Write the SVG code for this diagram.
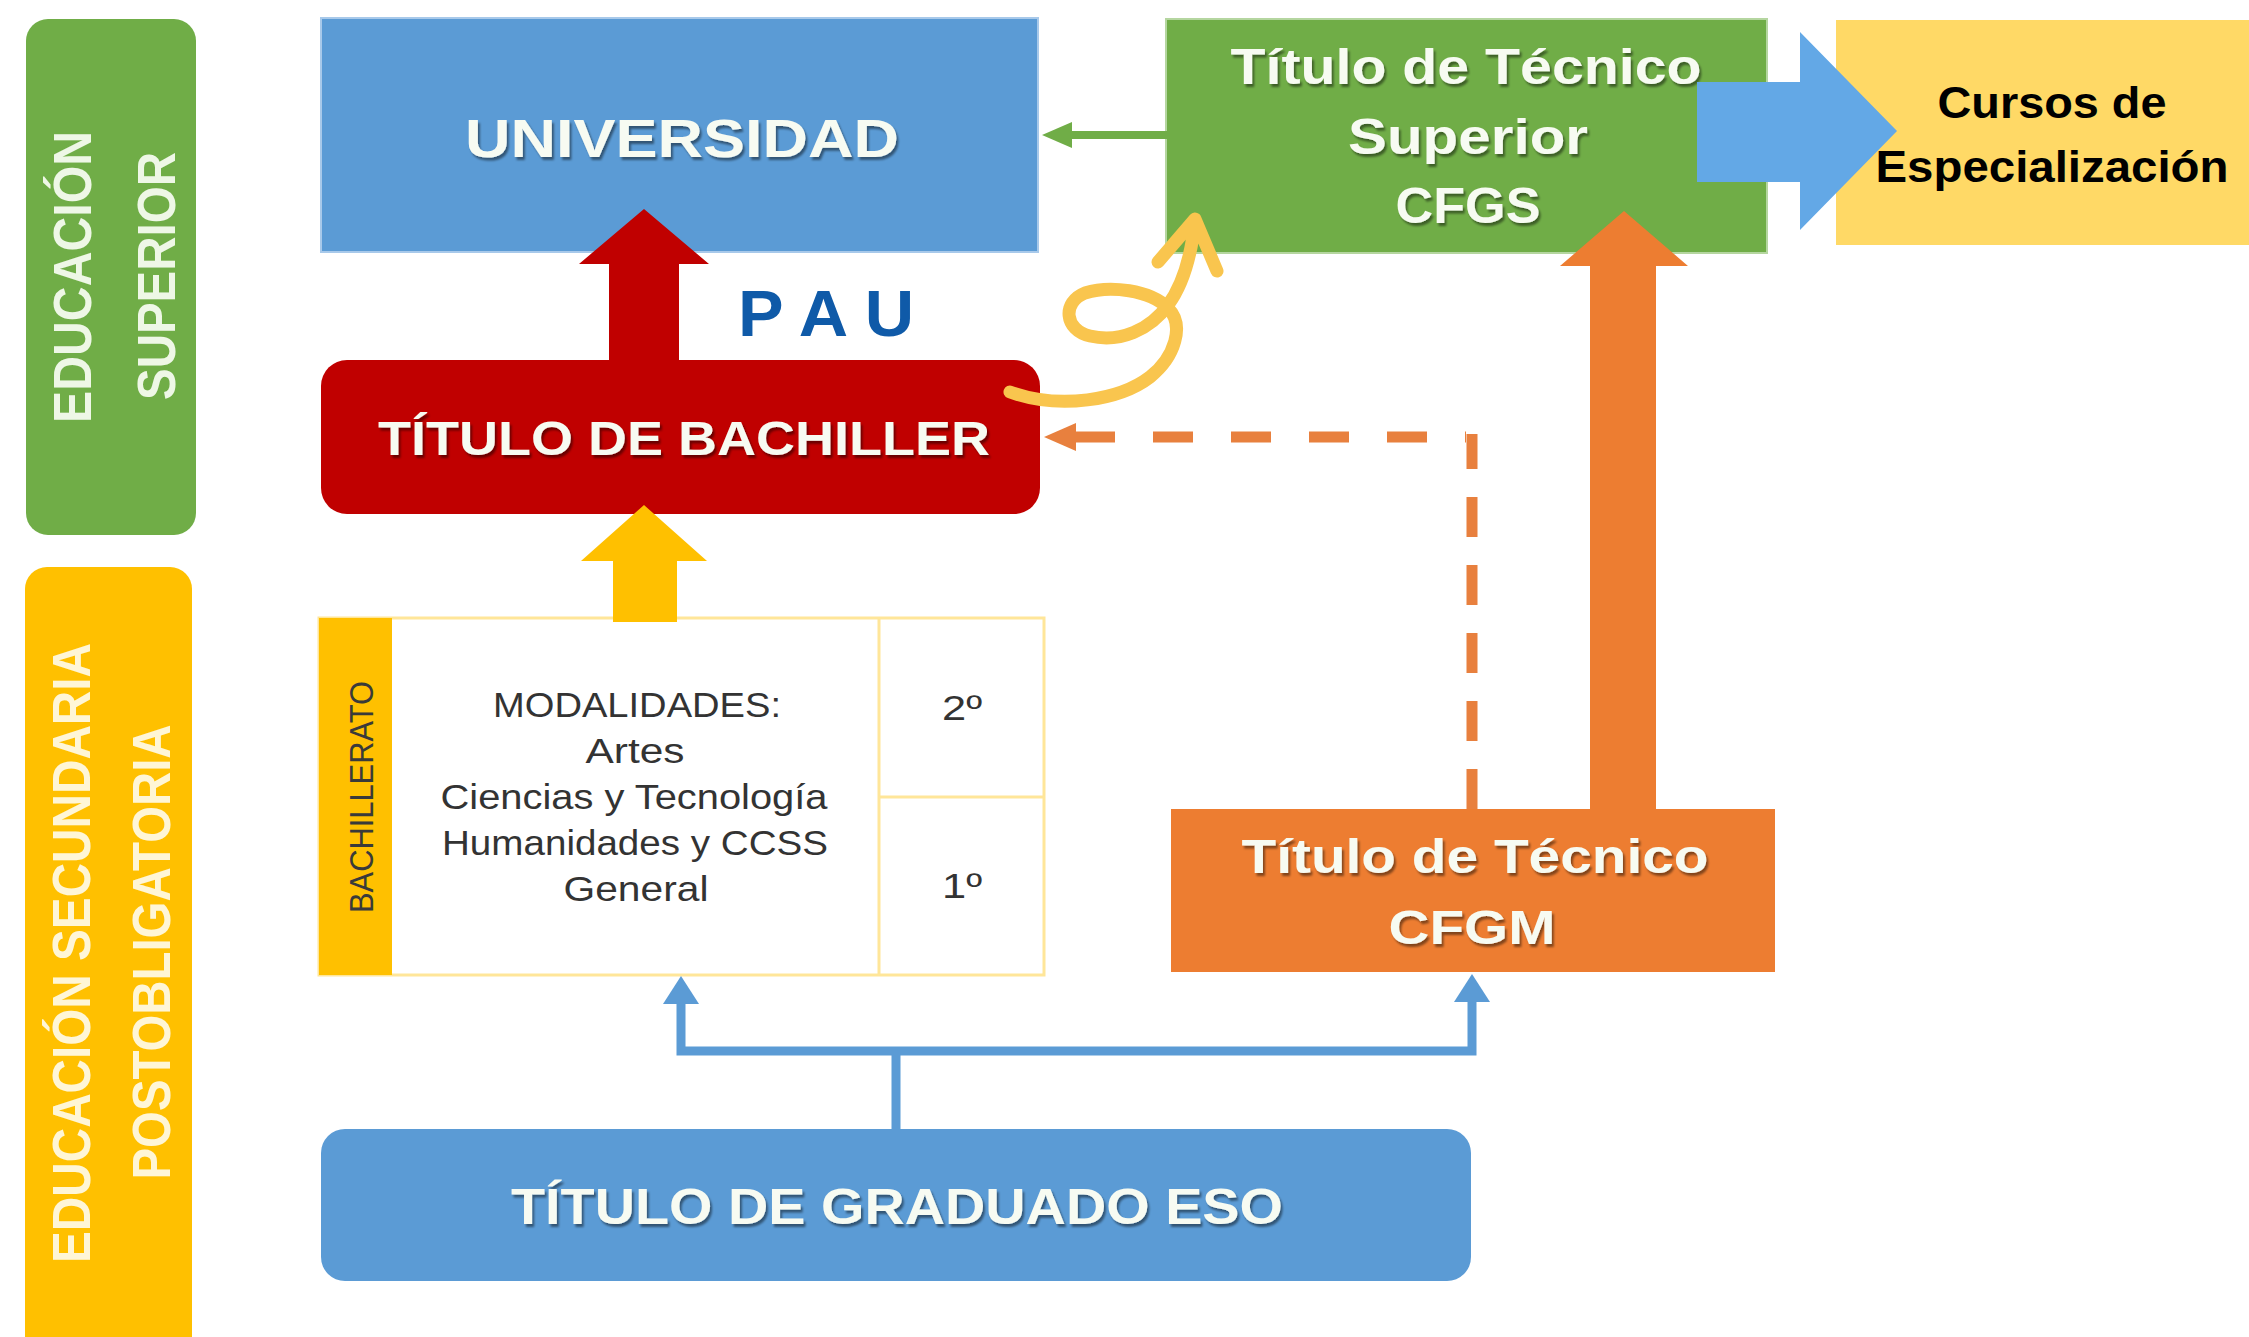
<svg xmlns="http://www.w3.org/2000/svg" width="2249" height="1337" viewBox="0 0 2249 1337">
<defs>
<filter id="sh" x="-5%" y="-20%" width="110%" height="140%">
<feDropShadow dx="2" dy="3" stdDeviation="1.2" flood-color="#000" flood-opacity="0.45"/>
</filter>
<style>
.f{font-family:"Liberation Sans",Arial,sans-serif}
.b{font-weight:bold}
.w{fill:#F7FBF2}
.bar{font-family:"Liberation Sans",Arial,sans-serif;font-weight:bold;font-size:54px;text-anchor:middle}
.box{font-family:"Liberation Sans",Arial,sans-serif;font-weight:bold;text-anchor:middle;fill:#F7FBF2;filter:url(#sh)}
.mod{font-family:"Liberation Sans",Arial,sans-serif;font-size:35px;fill:#333;text-anchor:middle}
.blue{stroke:#5B9BD5;stroke-width:9;fill:none}
.dash{stroke:#E8803E;stroke-width:11;fill:none}
</style>
</defs>
<rect width="2249" height="1337" fill="#fff"/>

<g id="edu-superior">
<rect x="26" y="19" width="170" height="516" rx="22" fill="#70AD47"/>
<text class="bar" fill="#EEF7E6" transform="translate(91,277) rotate(-90)" textLength="292" lengthAdjust="spacingAndGlyphs">EDUCACIÓN</text>
<text class="bar" fill="#EEF7E6" transform="translate(175,276) rotate(-90)" textLength="248" lengthAdjust="spacingAndGlyphs">SUPERIOR</text>
</g>

<g id="edu-secundaria">
<rect x="25" y="567" width="167" height="820" rx="22" fill="#FFC000"/>
<text class="bar" fill="#FFF6D6" transform="translate(90,953) rotate(-90)" textLength="620" lengthAdjust="spacingAndGlyphs">EDUCACIÓN SECUNDARIA</text>
<text class="bar" fill="#FFF6D6" transform="translate(170,952) rotate(-90)" textLength="455" lengthAdjust="spacingAndGlyphs">POSTOBLIGATORIA</text>
</g>

<g id="universidad">
<rect x="321" y="18" width="717" height="234" fill="#5B9BD5" stroke="#A8C9EA" stroke-width="2"/>
<text class="box" x="682" y="157" font-size="54" textLength="434" lengthAdjust="spacingAndGlyphs">UNIVERSIDAD</text>
</g>

<g id="bachiller">
<rect x="321" y="360" width="719" height="154" rx="26" fill="#C00000"/>
<text class="box" x="684" y="455" font-size="49" textLength="612" lengthAdjust="spacingAndGlyphs">TÍTULO DE BACHILLER</text>
</g>

<g id="cfgs">
<rect x="1166" y="19" width="601" height="234" fill="#70AD47" stroke="#B5D6A0" stroke-width="2"/>
<text class="box" x="1466" y="84" font-size="50" textLength="471" lengthAdjust="spacingAndGlyphs">Título de Técnico</text>
<text class="box" x="1468" y="154" font-size="50" textLength="240" lengthAdjust="spacingAndGlyphs">Superior</text>
<text class="box" x="1468" y="223" font-size="50" textLength="145" lengthAdjust="spacingAndGlyphs">CFGS</text>
</g>

<g id="cursos">
<rect x="1836" y="20" width="413" height="225" fill="#FFD966"/>
<text class="f b" x="2052" y="118" font-size="45" text-anchor="middle" fill="#000" textLength="229" lengthAdjust="spacingAndGlyphs">Cursos de</text>
<text class="f b" x="2052" y="182" font-size="45" text-anchor="middle" fill="#000" textLength="353" lengthAdjust="spacingAndGlyphs">Especialización</text>
</g>

<g id="bachillerato">
<rect x="319" y="618" width="725" height="357" fill="#fff" stroke="#FFE699" stroke-width="3"/>
<rect x="319" y="618" width="73" height="357" fill="#FFC000"/>
<line x1="879" y1="618" x2="879" y2="975" stroke="#FFE699" stroke-width="3"/>
<line x1="879" y1="797" x2="1044" y2="797" stroke="#FFE699" stroke-width="3"/>
<text class="f" transform="translate(373,797) rotate(-90)" font-size="34" text-anchor="middle" fill="#3A3A3A" textLength="232" lengthAdjust="spacingAndGlyphs">BACHILLERATO</text>
<text class="mod" x="637" y="717" textLength="288" lengthAdjust="spacingAndGlyphs">MODALIDADES:</text>
<text class="mod" x="635" y="763" textLength="99" lengthAdjust="spacingAndGlyphs">Artes</text>
<text class="mod" x="634" y="809" textLength="387" lengthAdjust="spacingAndGlyphs">Ciencias y Tecnología</text>
<text class="mod" x="635" y="855" textLength="386" lengthAdjust="spacingAndGlyphs">Humanidades y CCSS</text>
<text class="mod" x="636" y="901" textLength="145" lengthAdjust="spacingAndGlyphs">General</text>
<text class="mod" x="962" y="720" font-size="34" textLength="40" lengthAdjust="spacingAndGlyphs">2º</text>
<text class="mod" x="962" y="898" font-size="34" textLength="40" lengthAdjust="spacingAndGlyphs">1º</text>
</g>

<g id="cfgm">
<rect x="1171" y="809" width="604" height="163" fill="#ED7D31"/>
<text class="box" x="1475" y="873" font-size="48" textLength="467" lengthAdjust="spacingAndGlyphs">Título de Técnico</text>
<text class="box" x="1472" y="944" font-size="48" textLength="167" lengthAdjust="spacingAndGlyphs">CFGM</text>
</g>

<g id="graduado">
<rect x="321" y="1129" width="1150" height="152" rx="24" fill="#5B9BD5"/>
<text class="box" x="897" y="1224" font-size="50" textLength="772" lengthAdjust="spacingAndGlyphs">TÍTULO DE GRADUADO ESO</text>
</g>

<g id="pau-label">
<text class="f b" x="738" y="336" font-size="64" fill="#0F5AA8" textLength="176" lengthAdjust="spacingAndGlyphs">P A U</text>
</g>

<g id="connectors">
<polygon points="609,362 609,264 579,264 644,209 709,264 679,264 679,362" fill="#C00000"/>
<polygon points="613,622 613,561 581,561 644,505 707,561 677,561 677,622" fill="#FFC000"/>
<polygon points="1590,810 1590,266 1560,266 1624,211 1688,266 1656,266 1656,810" fill="#ED7D31"/>
<line x1="1167" y1="135" x2="1068" y2="135" stroke="#70AD47" stroke-width="8"/>
<polygon points="1042,135 1072,122 1072,148" fill="#70AD47"/>
<polygon points="1697,82 1800,82 1800,32 1897,131 1800,230 1800,182 1697,182" fill="#63A8E6"/>
<path class="dash" d="M1472,809 V434" stroke-dasharray="40 28"/>
<path class="dash" d="M1075,437 H1466" stroke-dasharray="40 38"/>
<polygon points="1044,437 1076,423 1076,451" fill="#E8803E"/>
<path class="blue" d="M896,1129 V1051 M676.5,1051 H1476.5 M681,1051 V1000 M1472,1051 V998"/>
<polygon points="681,976 699,1004 663,1004" fill="#5B9BD5"/>
<polygon points="1472,974 1490,1002 1454,1002" fill="#5B9BD5"/>
<path d="M1010,392 C1060,410 1120,400 1150,377 C1175,357 1185,325 1168,308 C1150,290 1110,285 1085,293 C1062,302 1064,330 1090,336 C1120,343 1150,330 1168,305 C1185,282 1192,250 1195,220 M1158,262 L1195,219 L1217,271" fill="none" stroke="#F9C54E" stroke-width="13" stroke-linecap="round" stroke-linejoin="round"/>
</g>
</svg>
